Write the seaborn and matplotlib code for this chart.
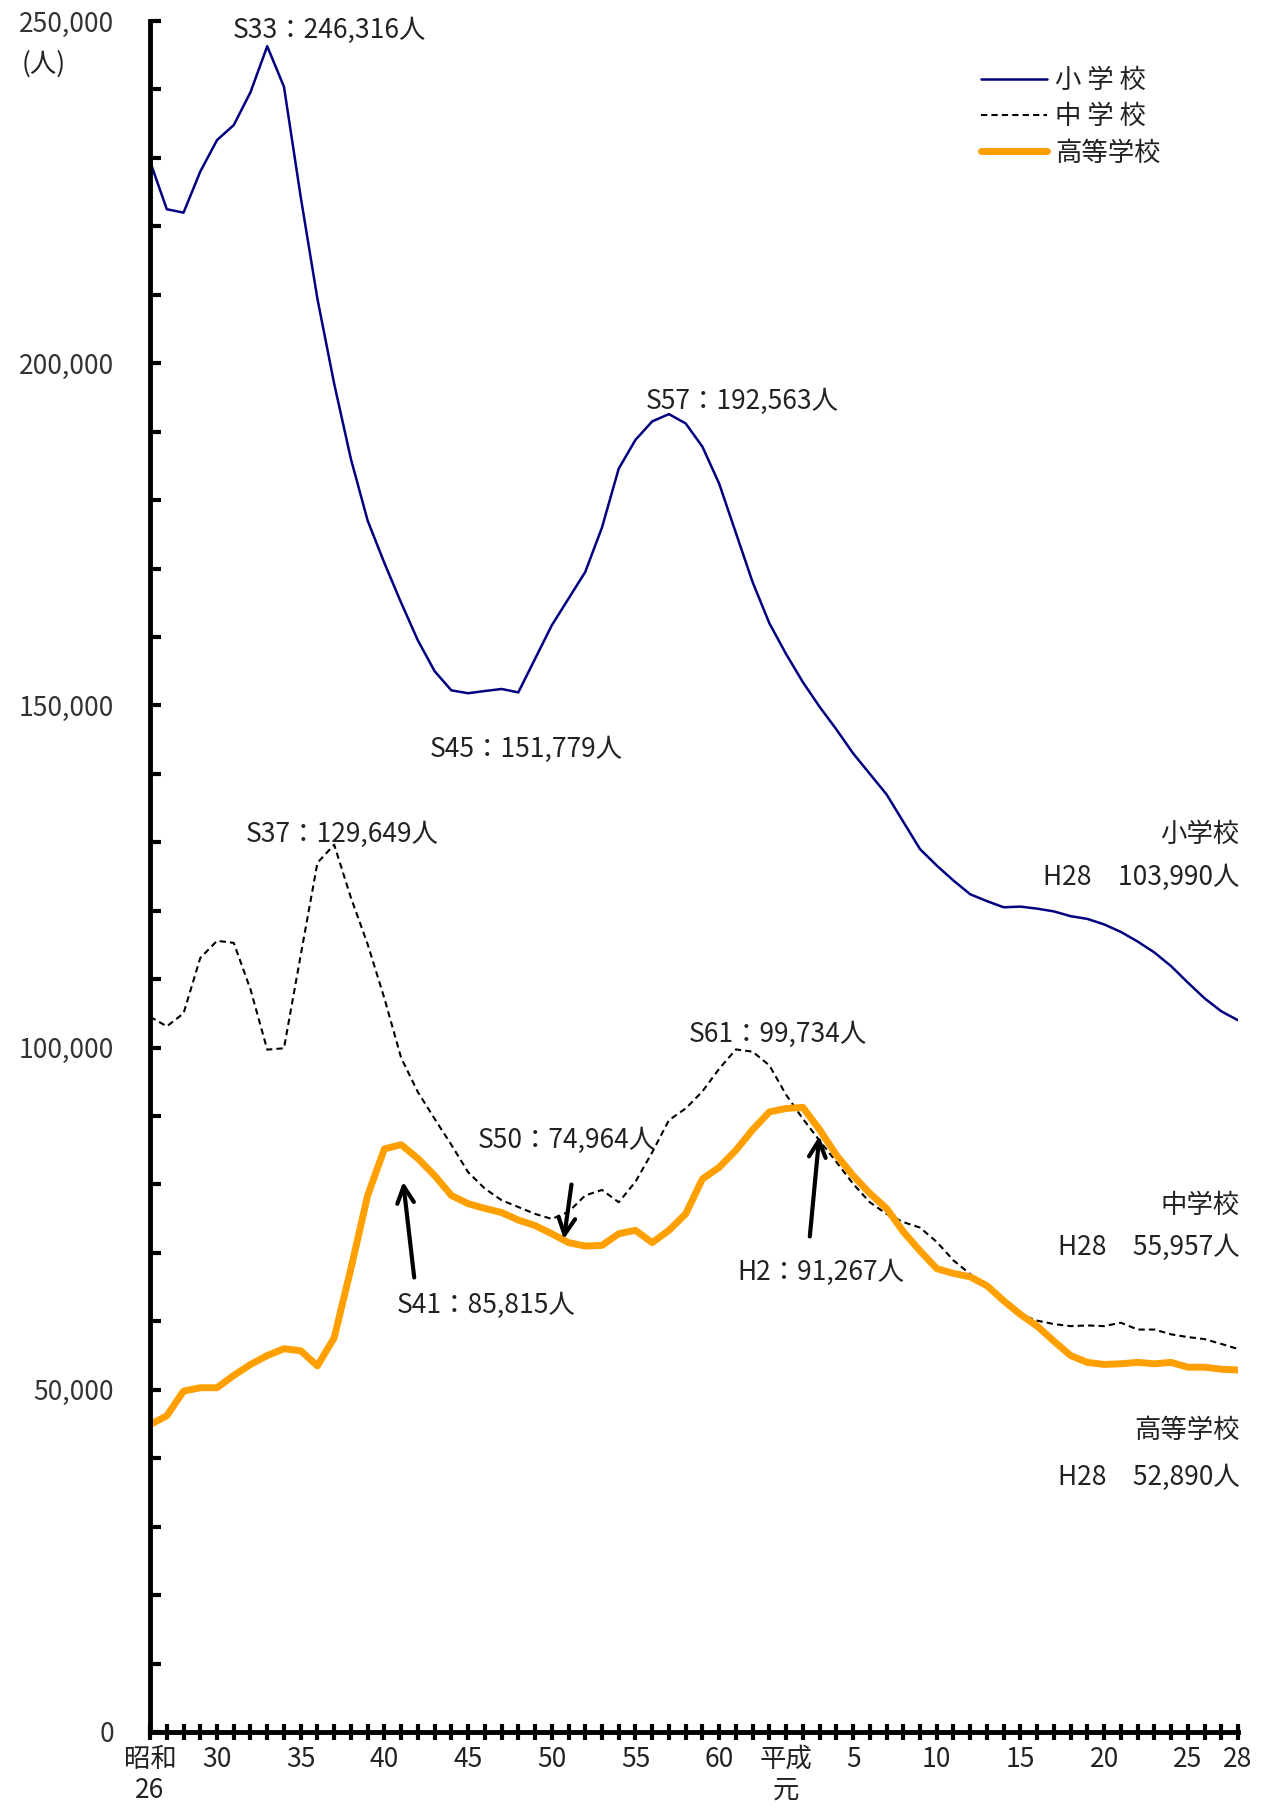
import numpy as np
import pandas as pd
import matplotlib
matplotlib.use('Agg')
import matplotlib.pyplot as plt
import seaborn as sns

# 昭和26 (1951) - 平成28 (2016)
years = list(range(1951, 2017))

elementary = [229500, 222500, 222000, 228000, 232600, 234800, 239600, 246316, 240400, 224300,
              209400, 197000, 186000, 177000, 170800, 165000, 159500, 155000, 152200, 151779,
              152100, 152400, 151900, 156800, 161700, 165600, 169500, 176000, 184600, 188800,
              191500, 192563, 191200, 187800, 182400, 175200, 168000, 162000, 157500, 153400,
              149800, 146500, 143000, 140000, 137000, 133000, 129000, 126600, 124400, 122400,
              121400, 120500, 120600, 120300, 119900, 119200, 118800, 118000, 116900, 115500,
              113900, 111900, 109500, 107200, 105300, 103990]

middle = [104500, 103100, 105000, 113100, 115600, 115300, 108500, 99700, 99900, 113500,
          127000, 129649, 121900, 115100, 107200, 98500, 93500, 89600, 85800, 81800,
          79400, 77700, 76700, 75700, 74964, 76000, 78400, 79200, 77400, 80400,
          84700, 89400, 91100, 93600, 96900, 99734, 99400, 97400, 93100, 89600,
          86400, 83300, 80100, 77400, 75700, 74500, 73700, 71600, 68900, 66900,
          64900, 62700, 61000, 60100, 59600, 59300, 59400, 59300, 59800, 58800,
          58800, 58100, 57700, 57400, 56700, 55957]

high = [44900, 46200, 49800, 50300, 50300, 52100, 53700, 55000, 56000, 55700,
        53500, 57600, 67700, 78400, 85200, 85815, 83800, 81300, 78400, 77200,
        76500, 75900, 74800, 74000, 72800, 71500, 71000, 71100, 72800, 73300,
        71500, 73300, 75700, 80800, 82500, 85000, 88000, 90600, 91100, 91267,
        88000, 84300, 81300, 78700, 76500, 73100, 70300, 67700, 67000, 66500,
        65200, 63000, 61000, 59300, 57100, 55000, 54000, 53700, 53800, 54000,
        53800, 54000, 53300, 53300, 53000, 52890]

tick_years = [1951, 1955, 1960, 1965, 1970, 1975, 1980, 1985, 1989, 1993, 1998, 2003, 2008, 2013, 2016]
tick_labels = ['昭和\n26', '30', '35', '40', '45', '50', '55', '60', '平成\n元', '5', '10', '15', '20', '25', '28']

sns.set_style('ticks')
plt.rcParams['font.family'] = ['Noto Sans CJK JP', 'DejaVu Sans']
plt.rcParams['text.color'] = '#222222'

df = pd.DataFrame({'year': years, '小学校': elementary, '中学校': middle, '高等学校': high})
x = df['year'] - 1951

fig = plt.figure(figsize=(12.61, 18.13), dpi=100)
ax = fig.add_axes([0.119, 0.0447, 0.8628, 0.9437])

sns.lineplot(x=x, y=df['小学校'], ax=ax, color='#000080', lw=1.8, label='小 学 校')
sns.lineplot(x=x, y=df['中学校'], ax=ax, color='black', lw=1.5, dashes=False, label='中 学 校')
ax.lines[-1].set_dashes((3, 2))
sns.lineplot(x=x, y=df['高等学校'], ax=ax, color='#FFA000', lw=5, label='高等学校')

ax.set_xlim(0, 65)
ax.set_ylim(0, 250000)
ax.set_xlabel('')
ax.set_ylabel('')

for s in ['top', 'right']:
    ax.spines[s].set_visible(False)
for s in ['left', 'bottom']:
    ax.spines[s].set_linewidth(3.5)
    ax.spines[s].set_color('black')

ax.set_xticks([yr - 1951 for yr in tick_years])
ax.set_xticklabels(tick_labels)
ax.set_xticks(range(0, 66), minor=True)
ax.tick_params(axis='x', which='both', bottom=True, direction='inout', length=12, width=3,
               colors='black', labelcolor='#222222', labelsize=19, pad=4)

ax.set_yticks(range(0, 250001, 50000))
ax.set_yticklabels([f'{v:,}' for v in range(0, 250001, 50000)])
ax.set_yticks(range(0, 250001, 10000), minor=True)
ax.tick_params(axis='y', which='both', left=True, direction='in', length=8, width=3,
               colors='black', labelcolor='#333333', labelsize=19, pad=26)

fig.text(0.035, 0.9646, '(人)', ha='center', va='center', fontsize=19)

fs = 19
ax.text(10.7, 248600, 'S33：246,316人', ha='center', va='center', fontsize=fs)
ax.text(35.4, 194400, 'S57：192,563人', ha='center', va='center', fontsize=fs)
ax.text(22.5, 143600, 'S45：151,779人', ha='center', va='center', fontsize=fs)
ax.text(11.5, 131200, 'S37：129,649人', ha='center', va='center', fontsize=fs)
ax.text(37.5, 101900, 'S61：99,734人', ha='center', va='center', fontsize=fs)

arrow = dict(arrowstyle='->', lw=3, color='black', mutation_scale=30)
ax.annotate('', xy=(15.1, 80800), xytext=(15.8, 66000), arrowprops=arrow)
ax.text(20.1, 62300, 'S41：85,815人', ha='center', va='center', fontsize=fs)
ax.annotate('', xy=(24.7, 71600), xytext=(25.2, 80400), arrowprops=arrow)
ax.text(24.9, 86400, 'S50：74,964人', ha='center', va='center', fontsize=fs)
ax.annotate('', xy=(40.0, 87500), xytext=(39.4, 72000), arrowprops=arrow)
ax.text(40.1, 67200, 'H2：91,267人', ha='center', va='center', fontsize=fs)

rx = 65.1
ax.text(rx, 131200, '小学校', ha='right', va='center', fontsize=fs)
ax.text(rx, 124800, 'H28　103,990人', ha='right', va='center', fontsize=fs)
ax.text(rx, 76900, '中学校', ha='right', va='center', fontsize=fs)
ax.text(rx, 70800, 'H28　55,957人', ha='right', va='center', fontsize=fs)
ax.text(rx, 44000, '高等学校', ha='right', va='center', fontsize=fs)
ax.text(rx, 37200, 'H28　52,890人', ha='right', va='center', fontsize=fs)

leg = ax.legend(loc='upper left', bbox_to_anchor=(0.742, 0.987), frameon=False, fontsize=fs,
                handlelength=2.5, handletextpad=0.3, labelspacing=0.35)

fig.savefig('out.png', dpi=100, facecolor='white')
